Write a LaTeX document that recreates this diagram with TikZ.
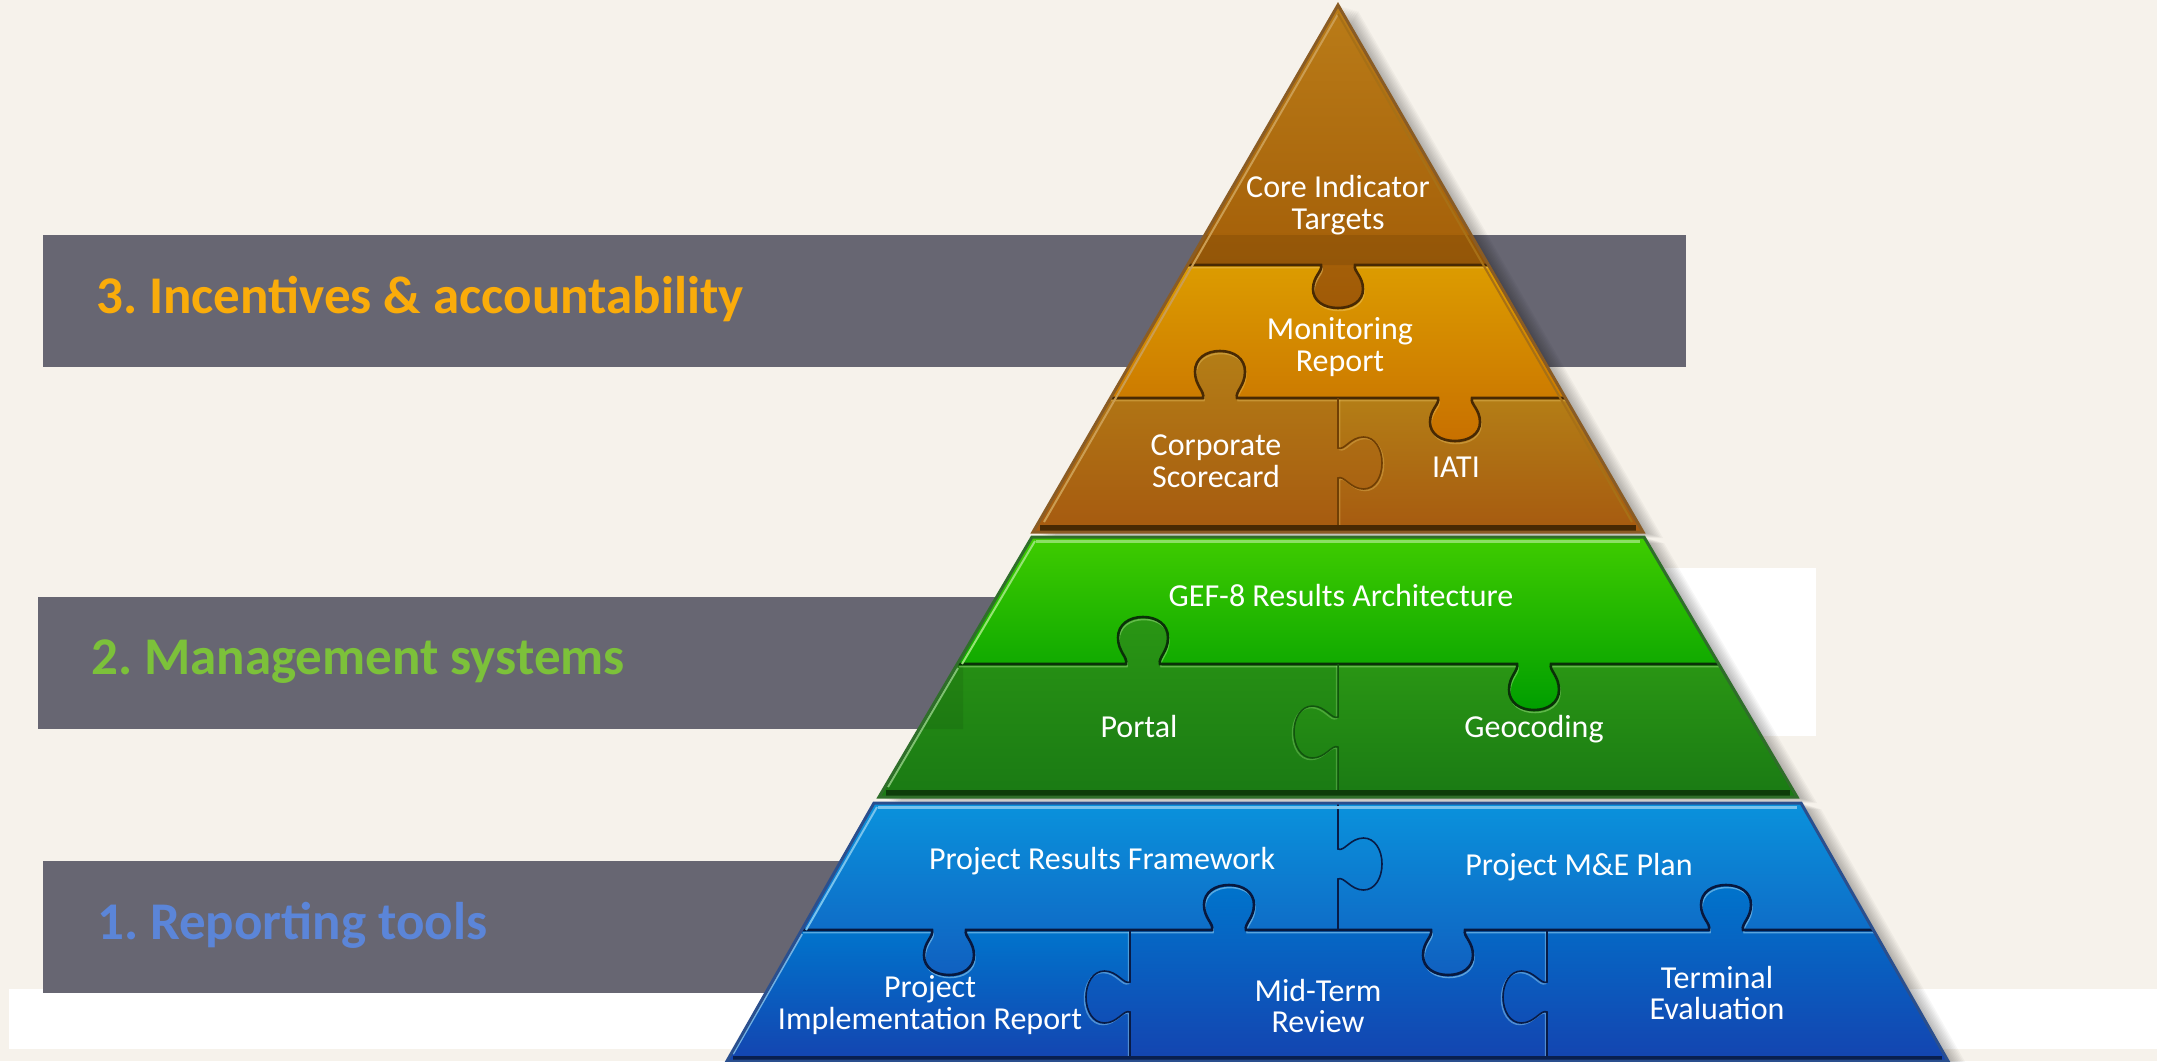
\documentclass[tikz,border=0pt]{standalone}
\usepackage{fontspec}
\setmainfont{Carlito}
\definecolor{bgc}{HTML}{F6F2EB}
\definecolor{bandc}{HTML}{676672}
\newcommand\HT[4]{ -- ({#1-#4*17},#2) .. controls ({#1-#4*15},{#2+#3*.14}) and ({#1-#4*25},{#2+#3*.26}) .. ({#1-#4*25},{#2+#3*.56}) .. controls ({#1-#4*25},{#2+#3*.84}) and ({#1-#4*14},{#2+#3}) .. ({#1},{#2+#3}) .. controls ({#1+#4*14},{#2+#3}) and ({#1+#4*25},{#2+#3*.84}) .. ({#1+#4*25},{#2+#3*.56}) .. controls ({#1+#4*25},{#2+#3*.26}) and ({#1+#4*15},{#2+#3*.14}) .. ({#1+#4*17},#2) }
\newcommand\VT[4]{ -- (#1,{#2-#4*15}) .. controls ({#1+#3*.14},{#2-#4*12}) and ({#1+#3*.28},{#2-#4*26}) .. ({#1+#3*.58},{#2-#4*26}) .. controls ({#1+#3*.84},{#2-#4*26}) and ({#1+#3},{#2-#4*14}) .. ({#1+#3},#2) .. controls ({#1+#3},{#2+#4*14}) and ({#1+#3*.84},{#2+#4*26}) .. ({#1+#3*.58},{#2+#4*26}) .. controls ({#1+#3*.28},{#2+#4*26}) and ({#1+#3*.14},{#2+#4*12}) .. (#1,{#2+#4*15}) }
\tikzset{
  lab/.style={text=white,align=center,inner sep=0pt,font=\fontsize{32}{31.5}\selectfont},
  head/.style={anchor=west,inner sep=0pt,font=\bfseries\fontsize{53}{55}\selectfont\frenchspacing},
  band/.style={fill=bandc,draw=none},
  whitebox/.style={fill=white,draw=none},
  coreP/.style={top color=B1,bottom color=B2},
  monP/.style={top color=M1,bottom color=M2},
  lowP/.style={top color=L1,bottom color=L2},
  gupP/.style={top color=G1,bottom color=G2},
  gloP/.style={top color=H1,bottom color=H2},
  bupP/.style={top color=C1,bottom color=C2},
  bloP/.style={top color=D1,bottom color=D2},
}
\definecolor{B1}{HTML}{BA7C18}\definecolor{B2}{HTML}{A05A06}
\definecolor{M1}{HTML}{DC9C00}\definecolor{M2}{HTML}{C87000}
\definecolor{L1}{HTML}{B47E16}\definecolor{L2}{HTML}{A65A10}
\definecolor{G1}{HTML}{3FCC00}\definecolor{G2}{HTML}{009E00}
\definecolor{H1}{HTML}{2A9614}\definecolor{H2}{HTML}{1A7A14}
\definecolor{C1}{HTML}{0A92DC}\definecolor{C2}{HTML}{1060C0}
\definecolor{D1}{HTML}{0074CC}\definecolor{D2}{HTML}{1444B0}
\definecolor{E3}{HTML}{8A5C24}\definecolor{E2}{HTML}{2F6E2A}\definecolor{E1}{HTML}{2A4F8E}
\begin{document}
\begin{tikzpicture}[x=1pt,y=-1pt]
\useasboundingbox (0,0) rectangle (2157,1061);
\clip (0,0) rectangle (2157,1061);
\fill[bgc] (0,0) rectangle (2157,1061);
% white boxes
\fill[whitebox] (9,989) rectangle (2157,1049);
\fill[whitebox] (1500,568) rectangle (1816,736);
% bands
\fill[band] (43,235) rectangle (1686,367);
\fill[band] (38,597) rectangle (1100,729);
\fill[band] (43,861) rectangle (1000,993);
% soft shadows
\foreach \i in {1,...,10}{
  \fill[black,opacity=.03,shift={(\i*2,\i*.6)}] (1338,5) -- (1643,532) -- (1033,532) -- cycle;
  \fill[black,opacity=.03,shift={(\i*2,\i*.6)}] (1032,537) -- (1644,537) -- (1797,797) -- (879,797) -- cycle;
  \fill[black,opacity=.03,shift={(\i*2,\i*.6)}] (874,803) -- (1801,803) -- (1948,1061) -- (727,1061) -- cycle;
}
% ---- top tier pieces
\shade[lowP] (1338,398) \HT{1455}{398}{43}{1} -- (1565,398) -- (1643,532) -- (1338,532) \VT{1338}{463}{44}{-1} -- cycle;
\shade[monP] (1187,265) \HT{1338}{265}{43}{1} -- (1489,265) -- (1565,398) \HT{1455}{398}{43}{-1} -- (1338,398) \HT{1220}{398}{-47}{-1} -- (1110,398) -- cycle;
\shade[lowP] (1110,398) \HT{1220}{398}{-47}{1} -- (1338,398) \VT{1338}{463}{44}{1} -- (1338,532) -- (1033,532) -- cycle;
\shade[coreP] (1338,5) -- (1489,265) \HT{1338}{265}{43}{-1} -- (1187,265) -- cycle;
\fill[black!70!B2,opacity=.13] (1205,235) -- (1471,235) -- (1489,265) -- (1187,265) -- cycle;
% seams, top tier
\draw[M1!60!white,opacity=.5,line width=1.5pt,shift={(1,2.5)}] (1187,265) \HT{1338}{265}{43}{1} -- (1489,265);
\draw[M1!60!white,opacity=.4,line width=1.5pt,shift={(1,2.5)}] (1110,398) \HT{1220}{398}{-47}{1} -- (1338,398) \HT{1455}{398}{43}{1} -- (1565,398);
\draw[M1!60!white,opacity=.35,line width=1.5pt,shift={(1.5,1.5)}] (1338,398) \VT{1338}{463}{44}{1} -- (1338,532);
\draw[black!55!B2,line width=2.6pt] (1187,265) \HT{1338}{265}{43}{1} -- (1489,265);
\draw[black!55!B2,line width=2.6pt] (1110,398) \HT{1220}{398}{-47}{1} -- (1338,398) \HT{1455}{398}{43}{1} -- (1565,398);
\draw[black!30!B2,line width=1.6pt] (1338,398) \VT{1338}{463}{44}{1} -- (1338,532);
% edges, top tier
\draw[black!55!B2,line width=6pt] (1040,528) -- (1636,528);
\draw[B1!75!white,line width=2pt] (1338,14) -- (1044,522);
\draw[B1!90!black,line width=2pt] (1338,14) -- (1632,522);
\draw[E3,line width=3pt,line join=miter] (1338,5) -- (1643,532) -- (1033,532) -- cycle;
% ---- green pieces
\shade[gloP] (958,664) \HT{1143}{664}{-47}{1} -- (1338,664) -- (1338,732) \VT{1338}{732}{-44}{1} -- (1338,797) -- (879,797) -- cycle;
\shade[gloP] (1338,664) \HT{1534}{664}{46}{1} -- (1718,664) -- (1797,797) -- (1338,797) \VT{1338}{732}{-44}{-1} -- cycle;
\shade[gupP] (1032,537) -- (1644,537) -- (1718,664) \HT{1534}{664}{46}{-1} \HT{1143}{664}{-47}{-1} -- (958,664) -- cycle;
\fill[black,opacity=.08] (958,664) -- (963,664) -- (963,729) -- (920,729) -- cycle;
\draw[G1!45!white,opacity=.45,line width=1.5pt,shift={(1,2.5)}] (958,664) \HT{1143}{664}{-47}{1} \HT{1534}{664}{46}{1} -- (1718,664);
\draw[G1!45!white,opacity=.3,line width=1.5pt,shift={(-1.5,1.5)}] (1338,664) \VT{1338}{732}{-44}{1} -- (1338,797);
\draw[black!60!H2,line width=2.6pt] (958,664) \HT{1143}{664}{-47}{1} \HT{1534}{664}{46}{1} -- (1718,664);
\draw[black!30!H2,line width=1.5pt] (1338,664) \VT{1338}{732}{-44}{1} -- (1338,797);
\draw[black!50!H2,line width=6pt] (886,793) -- (1790,793);
\draw[G1!60!white,line width=3pt] (1036,541) -- (1640,541);
\draw[G1!55!white,line width=2pt] (1035,541) -- (962,664);
\draw[H1!60!white,line width=2pt] (958,668) -- (888,787);
\draw[E2,line width=3pt,line join=miter] (1032,537) -- (1644,537) -- (1797,797) -- (879,797) -- cycle;
% ---- blue pieces
\shade[bupP] (874,803) -- (1338,803) \VT{1338}{864}{44}{1} -- (1338,930) \HT{1229}{930}{-45}{-1} \HT{949}{930}{45}{-1} -- (802,930) -- cycle;
\shade[bupP] (1338,803) -- (1801,803) -- (1873,930) \HT{1726}{930}{-45}{-1} \HT{1448}{930}{45}{-1} -- (1338,930) \VT{1338}{864}{44}{-1} -- cycle;
\shade[bloP] (802,930) \HT{949}{930}{45}{1} -- (1130,930) \VT{1130}{997}{-44}{1} -- (1130,1061) -- (727,1061) -- cycle;
\shade[bloP] (1130,930) \HT{1229}{930}{-45}{1} \HT{1448}{930}{45}{1} -- (1547,930) \VT{1547}{997}{-44}{1} -- (1547,1061) -- (1130,1061) \VT{1130}{997}{-44}{-1} -- cycle;
\shade[bloP] (1547,930) \HT{1726}{930}{-45}{1} -- (1873,930) -- (1948,1061) -- (1547,1061) \VT{1547}{997}{-44}{-1} -- cycle;
\draw[C1!45!white,opacity=.6,line width=1.5pt,shift={(1,2.5)}] (802,930) \HT{949}{930}{45}{1} \HT{1229}{930}{-45}{1} \HT{1448}{930}{45}{1} \HT{1726}{930}{-45}{1} -- (1873,930);
\draw[C1!45!white,opacity=.5,line width=1.5pt,shift={(-1.5,1.5)}] (1130,930) \VT{1130}{997}{-44}{1} -- (1130,1061);
\draw[C1!45!white,opacity=.5,line width=1.5pt,shift={(-1.5,1.5)}] (1547,930) \VT{1547}{997}{-44}{1} -- (1547,1061);
\draw[black!65!D2,line width=2.6pt] (802,930) \HT{949}{930}{45}{1} \HT{1229}{930}{-45}{1} \HT{1448}{930}{45}{1} \HT{1726}{930}{-45}{1} -- (1873,930);
\draw[black!60!D2,line width=1.6pt] (1338,803) \VT{1338}{864}{44}{1} -- (1338,930);
\draw[black!60!D2,line width=1.6pt] (1130,930) \VT{1130}{997}{-44}{1} -- (1130,1061);
\draw[black!60!D2,line width=1.6pt] (1547,930) \VT{1547}{997}{-44}{1} -- (1547,1061);
\draw[black!55!D2,line width=5pt] (733,1058) -- (1942,1058);
\draw[C1!55!white,line width=3pt] (878,807) -- (1797,807);
\draw[C1!55!white,line width=2pt] (877,807) -- (806,930);
\draw[D1!55!white,line width=2pt] (802,934) -- (733,1054);
\draw[E1,line width=3pt,line join=miter] (874,803) -- (1801,803) -- (1948,1061) -- (727,1061) -- cycle;
% ---- piece labels
\node[lab] (core) at (1338,205) {Core Indicator\\Targets};
\node[lab] (mon) at (1340,347) {Monitoring\\Report};
\node[lab] (corp) at (1216,461) {Corporate\\Scorecard};
\node[lab] (iati) at (1456,467) {IATI};
\node[lab] (gef) at (1341,595) {GEF-8 Results Architecture};
\node[lab] (portal) at (1139,726) {Portal};
\node[lab] (geo) at (1534,729) {Geocoding};
\node[lab] (prf) at (1102,861) {Project Results Framework};
\node[lab] (mep) at (1579,867) {Project M\&E Plan};
\node[lab] (pir) at (930,1005) {Project\\Implementation Report};
\node[lab] (mtr) at (1318,1006) {Mid-Term\\Review};
\node[lab] (te) at (1717,993) {Terminal\\Evaluation};
% ---- headings
\node[head,text={rgb,255:red,250;green,172;blue,10}] (h3) at (96,299) {3. Incentives \& accountability};
\node[head,text={rgb,255:red,124;green,193;blue,58}] (h2) at (91,662) {2. Management systems};
\node[head,text={rgb,255:red,91;green,133;blue,216}] (h1) at (97,925) {1. Reporting tools};
\end{tikzpicture}
\end{document}
